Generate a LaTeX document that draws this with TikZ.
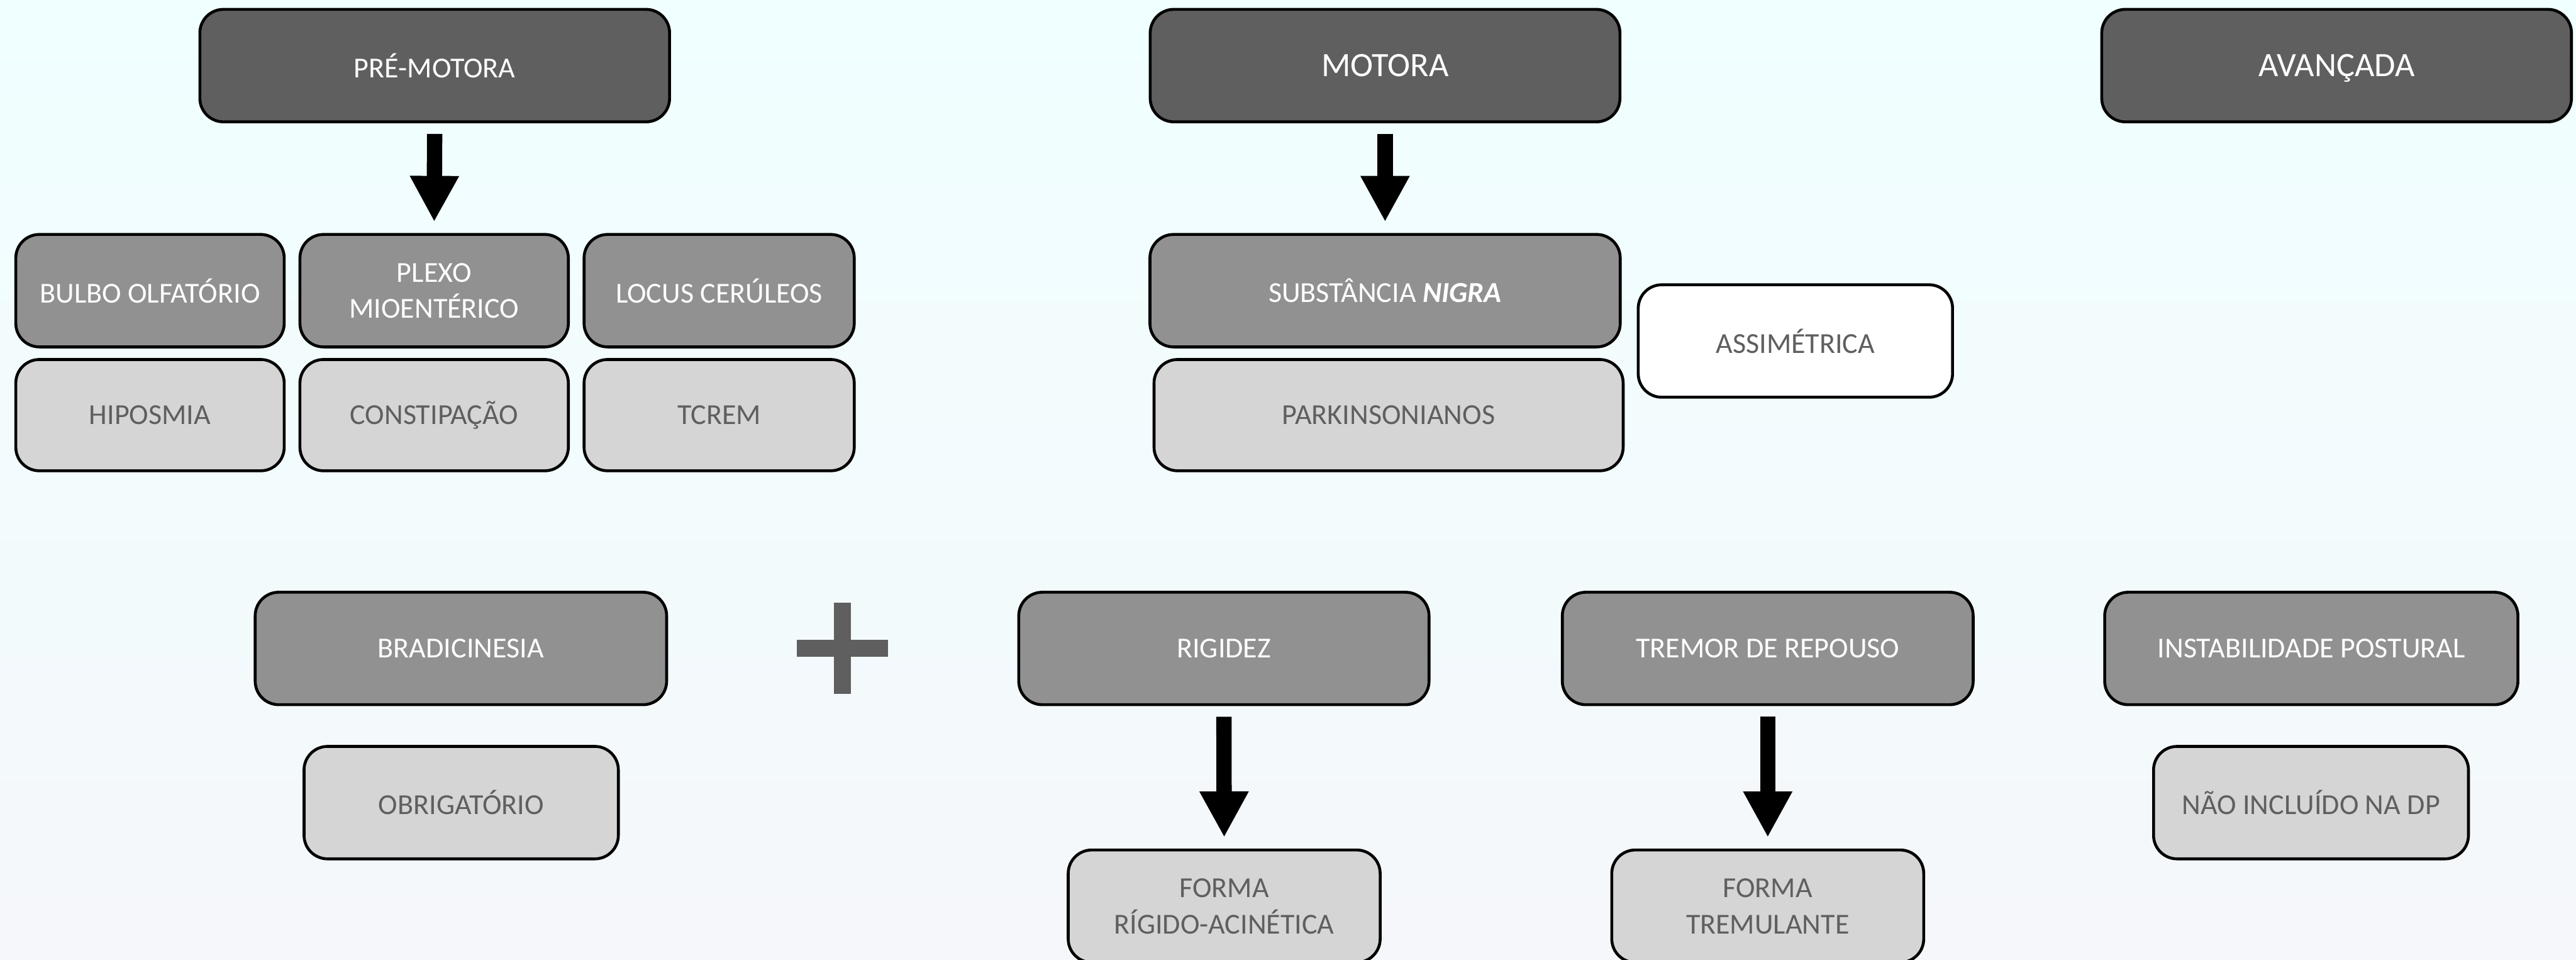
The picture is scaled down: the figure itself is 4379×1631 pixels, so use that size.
\documentclass[tikz,border=0pt]{standalone}
\usepackage{fontspec}
\setmainfont{Carlito}
\usetikzlibrary{arrows.meta}
\definecolor{darkbox}{HTML}{5F5F5F}
\definecolor{midbox}{HTML}{919191}
\definecolor{lightbox}{HTML}{D5D5D5}
\definecolor{bgtop}{HTML}{F0FFFF}
\definecolor{bgbot}{HTML}{F5F7FA}
\definecolor{softtext}{HTML}{5F5F5F}

\begin{document}
\begin{tikzpicture}[x=0.01cm,y=-0.01cm,
  box/.style={draw=black, line width=1.4pt, rounded corners=0.4cm,
    minimum height=1.91cm, inner sep=0pt, align=center,
    font=\fontsize{14}{17.5}\selectfont},
  stage/.style={box, fill=darkbox, text=white, minimum width=7.98cm},
  bigstage/.style={stage, font=\fontsize{16.5}{20}\selectfont, text depth=0pt},
  site/.style={box, fill=midbox, text=white},
  sign/.style={box, fill=lightbox, text=softtext},
  note/.style={box, fill=white, text=softtext},
  bigarrow/.style={line width=0.26cm,
    -{Triangle[length=0.78cm,width=0.78cm]},
    shorten <=0.18cm, shorten >=0.19cm},
]
% background
\shade[top color=bgtop, bottom color=bgbot] (0,0) rectangle (4379,1631);
\useasboundingbox (0,0) rectangle (4379,1631);

% stages
\node[stage] (pm) at (739,111.5) {PRÉ-MOTORA};
\node[bigstage] (mot) at (2354.5,111.5) {MOTORA};
\node[bigstage] (avan) at (3972,111.5) {AVANÇADA};

% pre-motor sites and signs
\node[site, minimum width=4.56cm] (bulbo) at (255,494) {BULBO OLFATÓRIO};
\node[site, minimum width=4.56cm] (plexo) at (738,494) {PLEXO\\MIOENTÉRICO};
\node[site, minimum width=4.59cm] (locus) at (1222.5,494) {LOCUS CERÚLEOS};
\node[sign, minimum width=4.56cm, minimum height=1.89cm] (hipo) at (255,705.5) {HIPOSMIA};
\node[sign, minimum width=4.56cm, minimum height=1.89cm] (const) at (738,705.5) {CONSTIPAÇÃO};
\node[sign, minimum width=4.59cm, minimum height=1.89cm] (tcrem) at (1222.5,705.5) {TCREM};

% motor stage
\node[site, minimum width=7.99cm] (nigra) at (2354.5,494) {SUBSTÂNCIA \textbf{\textit{NIGRA}}};
\node[sign, minimum width=7.97cm, minimum height=1.89cm] (park) at (2360.5,705.5) {PARKINSONIANOS};
\node[note, minimum width=5.34cm] (assim) at (3052,579.5) {ASSIMÉTRICA};

% cardinal signs
\node[site, minimum width=6.99cm] (brad) at (783.5,1102) {BRADICINESIA};
\node[sign, minimum width=5.34cm] (obrig) at (784,1364) {OBRIGATÓRIO};
\node[site, minimum width=6.97cm] (rig) at (2080.5,1102) {RIGIDEZ};
\node[site, minimum width=6.98cm] (trem) at (3005,1102) {TREMOR DE REPOUSO};
\node[sign, minimum width=5.30cm] (forma1) at (2081,1540) {FORMA\\RÍGIDO-ACINÉTICA};
\node[sign, minimum width=5.30cm] (forma2) at (3005,1540) {FORMA\\TREMULANTE};
\node[site, minimum width=7.02cm] (inst) at (3929,1102) {INSTABILIDADE POSTURAL};
\node[sign, minimum width=5.35cm] (nao) at (3928.5,1364) {NÃO INCLUÍDO NA DP};

% plus sign
\coordinate (plus) at (1432,1101);
\fill[darkbox] (1418,1024) rectangle (1446,1179);
\fill[darkbox] (1355,1087) rectangle (1510,1116);

% arrows
\draw[bigarrow] (pm.south) -- (plexo.north);
\draw[bigarrow] (mot.south) -- (nigra.north);
\draw[bigarrow] (rig.south) -- (forma1.north);
\draw[bigarrow] (trem.south) -- (forma2.north);
\end{tikzpicture}
\end{document}
